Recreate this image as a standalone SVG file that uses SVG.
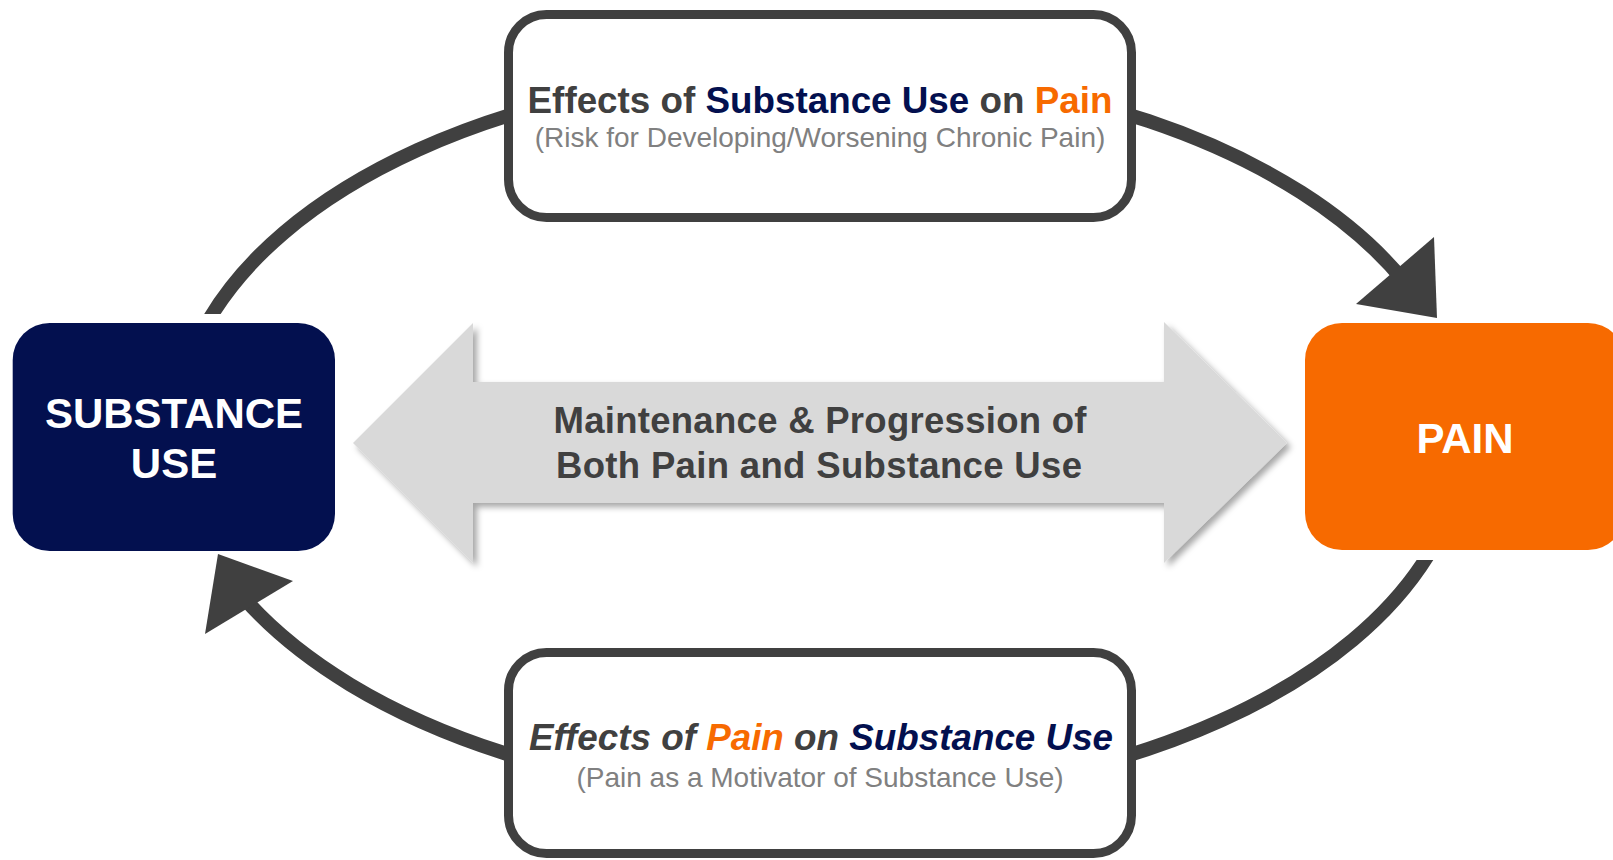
<svg xmlns="http://www.w3.org/2000/svg" width="1613" height="860" viewBox="0 0 1613 860">
  <defs>
    <filter id="shadow" x="-10%" y="-20%" width="120%" height="140%">
      <feDropShadow dx="4" dy="4" stdDeviation="3" flood-color="#000" flood-opacity="0.35"/>
    </filter>
    <clipPath id="arcClip">
      <rect x="0" y="0" width="1613" height="314"/>
      <rect x="0" y="560" width="1613" height="300"/>
    </clipPath>
  </defs>
  <style>
    text { font-family: "Liberation Sans", Arial, Helvetica, sans-serif; }
    .arc { fill: none; stroke: #404040; stroke-width: 14; }
    .head { fill: #404040; }
    .box { fill: #ffffff; stroke: #404040; stroke-width: 9; }
    .title { font-size: 36.8px; font-weight: bold; fill: #404040; }
    .sub { font-size: 28px; fill: #808080; }
    .navy { fill: #03104F; }
    .orange { fill: #F76A00; }
    .big { font-size: 42px; font-weight: bold; fill: #ffffff; }
    .mid { font-size: 36.5px; font-weight: bold; fill: #404040; }
  </style>

  <g id="connectors">
    <g clip-path="url(#arcClip)">
      <path class="arc" d="M 203.2 330 A 644 365 0 0 1 1405 282.4"/>
      <path class="arc" d="M 1434 545 A 644 365 0 0 1 244 598.2"/>
    </g>
    <polygon class="head" points="1434,237 1356,304 1437,318"/>
    <polygon class="head" points="218,554 293,581 205,634"/>
  </g>

  <g id="center-arrow">
    <polygon points="353,443 473,323 473,382 1164,382 1164,322 1287,443 1164,563 1164,503 473,503 473,563" fill="#D9D9D9" filter="url(#shadow)"/>
    <text class="mid" x="820" y="432.5" text-anchor="middle" textLength="533" lengthAdjust="spacing">Maintenance &amp; Progression of</text>
    <text class="mid" x="819" y="478" text-anchor="middle" textLength="526" lengthAdjust="spacing">Both Pain and Substance Use</text>
  </g>

  <g id="top-box">
    <rect class="box" x="508.5" y="14.5" width="623" height="203" rx="38"/>
    <text class="title" x="820" y="113.3" text-anchor="middle">Effects of <tspan class="navy">Substance Use</tspan> on <tspan class="orange">Pain</tspan></text>
    <text class="sub" x="820" y="146.5" text-anchor="middle">(Risk for Developing/Worsening Chronic Pain)</text>
  </g>

  <g id="bottom-box">
    <rect class="box" x="508.5" y="652.5" width="623" height="201" rx="38"/>
    <text class="title" x="821" y="750" text-anchor="middle" font-style="italic">Effects of <tspan class="orange">Pain</tspan> on <tspan class="navy">Substance Use</tspan></text>
    <text class="sub" x="820" y="786.5" text-anchor="middle">(Pain as a Motivator of Substance Use)</text>
  </g>

  <g id="substance-use">
    <rect x="12.7" y="323" width="322.3" height="228" rx="37" fill="#03104F"/>
    <text class="big" x="174" y="428" text-anchor="middle">SUBSTANCE</text>
    <text class="big" x="174" y="478" text-anchor="middle">USE</text>
  </g>

  <g id="pain">
    <rect x="1305" y="323" width="320" height="227" rx="37" fill="#F76A00"/>
    <text class="big" x="1465" y="453" text-anchor="middle">PAIN</text>
  </g>
</svg>
